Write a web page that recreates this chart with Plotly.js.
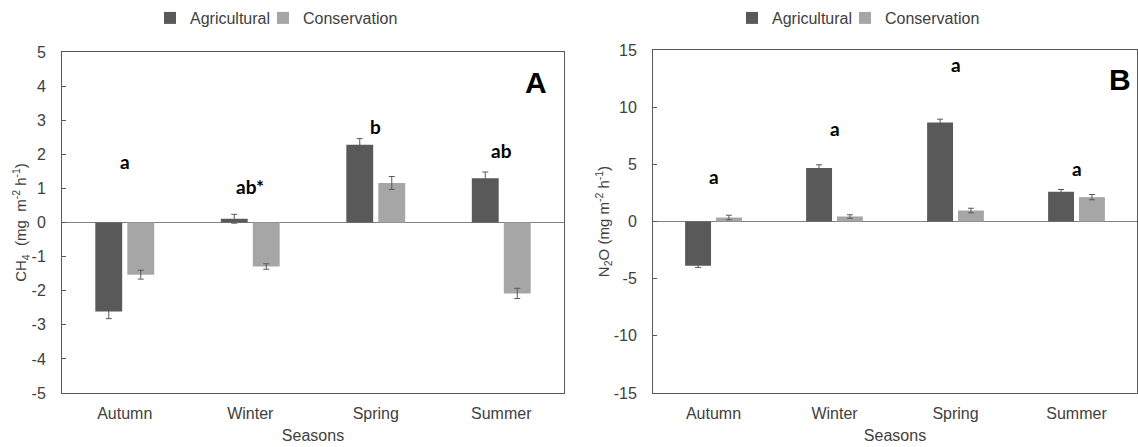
<!DOCTYPE html>
<html>
<head>
<meta charset="utf-8">
<script src="https://cdn.plot.ly/plotly-3.0.1.min.js"></script>
<style>html,body{margin:0;padding:0;background:#fff;}#chart{width:1138px;height:447px;}</style>
</head>
<body>
<div id="chart"></div>
<script>
// ---- data ----
var seasons = ["Autumn", "Winter", "Spring", "Summer"];
var seriesNames = ["Agricultural", "Conservation"];

// Panel A: CH4 flux (mg m-2 h-1)
var ch4Agricultural = [-2.61, 0.11, 2.28, 1.30];
var ch4AgriculturalErr = [0.21, 0.13, 0.18, 0.18];
var ch4Conservation = [-1.53, -1.29, 1.16, -2.08];
var ch4ConservationErr = [0.13, 0.08, 0.19, 0.15];
var ch4Letters = ["a", "ab*", "b", "ab"];
var ch4LetterY = [1.8, 1.07, 2.82, 2.12];
var ch4TickVals = [-5, -4, -3, -2, -1, 0, 1, 2, 3, 4, 5];
var ch4TickText = ["-5", "-4", "-3", "-2", "-1", "0", "1", "2", "3", "4", "5"];

// Panel B: N2O flux (mg m-2 h-1)
var n2oAgricultural = [-3.88, 4.67, 8.66, 2.60];
var n2oAgriculturalErr = [0.14, 0.29, 0.29, 0.2];
var n2oConservation = [0.35, 0.44, 0.96, 2.13];
var n2oConservationErr = [0.2, 0.15, 0.2, 0.23];
var n2oLetters = ["a", "a", "a", "a"];
var n2oLetterY = [3.94, 8.17, 13.7, 4.67];
var n2oTickVals = [-15, -10, -5, 0, 5, 10, 15];
var n2oTickText = ["-15", "-10", "-5", "0", "5", "10", "15"];

// ---- style ----
var cAgri = "#595959", cCons = "#a6a6a6";
var txt = "#404040", frame = "#595959";
var baseFont = "Liberation Sans, Arial, sans-serif";

function barTrace(name, x, y, err, color, xa, ya, legend) {
  return {
    type: "bar", name: name, x: x, y: y,
    xaxis: xa, yaxis: ya, legend: legend,
    marker: {color: color, line: {width: 0}},
    error_y: {type: "data", array: err, visible: true, color: "#595959", thickness: 1, width: 3}
  };
}

var traces = [
  barTrace(seriesNames[0], seasons, ch4Agricultural, ch4AgriculturalErr, cAgri, "x", "y", "legend"),
  barTrace(seriesNames[1], seasons, ch4Conservation, ch4ConservationErr, cCons, "x", "y", "legend2"),
  barTrace(seriesNames[0], seasons, n2oAgricultural, n2oAgriculturalErr, cAgri, "x2", "y2", "legend3"),
  barTrace(seriesNames[1], seasons, n2oConservation, n2oConservationErr, cCons, "x2", "y2", "legend4")
];

var W = 1138, H = 447;
var mL = 62, mR = 1, mT = 50, mB = 54;
var pw = W - mL - mR, ph = H - mT - mB;
function px2x(p) { return (p - mL) / pw; }
function px2y(p) { return 1 - (p - mT) / ph; }

var letterFont = {family: "Lato, Open Sans, sans-serif", size: 19, color: "#000"};
var annotations = [];
seasons.forEach(function (s, i) {
  annotations.push({xref: "x", yref: "y", x: s, y: ch4LetterY[i], text: "<b>" + ch4Letters[i] + "</b>", showarrow: false,
    font: letterFont, yanchor: "middle", xanchor: "center"});
  annotations.push({xref: "x2", yref: "y2", x: s, y: n2oLetterY[i], text: "<b>" + n2oLetters[i] + "</b>", showarrow: false,
    font: letterFont, yanchor: "middle", xanchor: "center"});
});
annotations.push({xref: "paper", yref: "paper", x: px2x(536), y: px2y(82), text: "<b>A</b>", showarrow: false,
  font: {family: baseFont, size: 30, color: "#000"}, xanchor: "center", yanchor: "middle"});
annotations.push({xref: "paper", yref: "paper", x: px2x(1120), y: px2y(80), text: "<b>B</b>", showarrow: false,
  font: {family: baseFont, size: 30, color: "#000"}, xanchor: "center", yanchor: "middle"});

function yAxis(range, tv, tt, domain, title, anchor) {
  return {
    domain: domain, range: range, anchor: anchor,
    tickmode: "array", tickvals: tv, ticktext: tt,
    showgrid: false, zeroline: true, zerolinecolor: "#808080", zerolinewidth: 1,
    showline: true, mirror: true, linecolor: frame, linewidth: 1,
    ticks: "inside", ticklen: 4, tickcolor: frame, ticklabelstandoff: 12,
    tickfont: {family: baseFont, size: 16, color: txt},
    title: {text: title, font: {family: baseFont, size: 15, color: txt}, standoff: 0},
    automargin: false, fixedrange: true
  };
}
function xAxis(domain, anchor) {
  return {
    domain: domain, anchor: anchor, type: "category",
    showgrid: false, showline: true, mirror: true, linecolor: frame, linewidth: 1,
    ticks: "", ticklabelstandoff: 6,
    tickfont: {family: baseFont, size: 16, color: txt},
    title: {text: "Seasons", font: {family: baseFont, size: 16, color: txt}, standoff: 8},
    automargin: false, fixedrange: true
  };
}
function legendAt(leftPx) {
  return {orientation: "h", x: px2x(leftPx), y: px2y(18), xanchor: "left", yanchor: "middle",
    font: {family: baseFont, size: 16, color: txt}, itemwidth: 30,
    bgcolor: "rgba(0,0,0,0)"};
}

var layout = {
  width: W, height: H,
  margin: {l: mL, r: mR, t: mT, b: mB},
  paper_bgcolor: "#fff", plot_bgcolor: "#fff",
  barmode: "group", bargap: 0.49, bargroupgap: 0.16,
  xaxis: xAxis([0, px2x(564)], "y"),
  yaxis: yAxis([-5, 5], ch4TickVals, ch4TickText, [0, px2y(52)], "CH<sub>4</sub>  (mg  m<sup>-2</sup> h<sup>-1</sup>)", "x"),
  xaxis2: xAxis([px2x(653), 1], "y2"),
  yaxis2: yAxis([-15, 15], n2oTickVals, n2oTickText, [0, 1], "N<sub>2</sub>O (mg m<sup>-2</sup> h<sup>-1</sup>)", "x2"),
  legend: legendAt(150),
  legend2: legendAt(263),
  legend3: legendAt(732),
  legend4: legendAt(845),
  annotations: annotations,
  showlegend: true
};

Plotly.newPlot("chart", traces, layout, {displayModeBar: false, staticPlot: true});
</script>
</body>
</html>
